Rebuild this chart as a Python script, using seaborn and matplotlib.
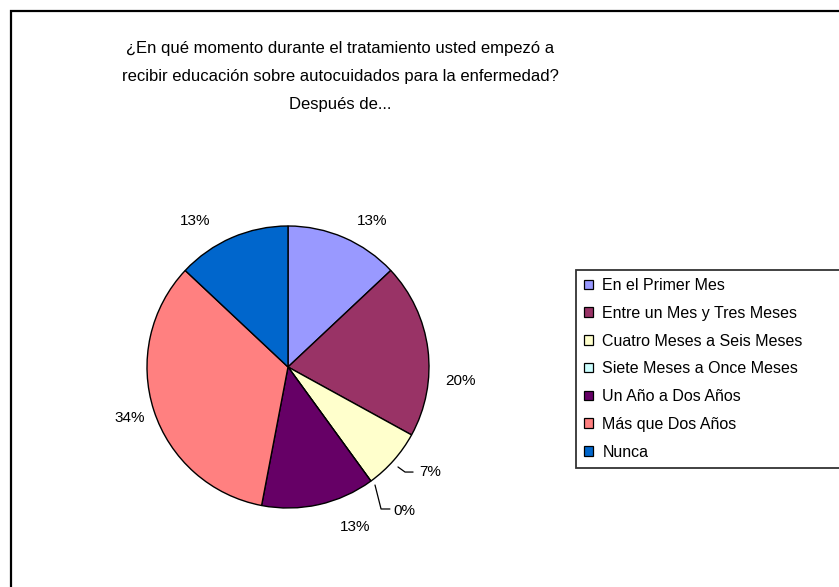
import matplotlib
matplotlib.use("Agg")
import matplotlib.pyplot as plt
import matplotlib.patches as mpatches
import seaborn as sns

# data
categories = ["En el Primer Mes", "Entre un Mes y Tres Meses", "Cuatro Meses a Seis Meses",
              "Siete Meses a Once Meses", "Un Año a Dos Años", "Más que Dos Años", "Nunca"]
percentages = [13, 20, 7, 0, 13, 34, 13]
title = ("¿En qué momento durante el tratamiento usted empezó a\n"
         "recibir educación sobre autocuidados para la enfermedad?\nDespués de...")

# style
sns.set_theme(style="white")
plt.rcParams["font.family"] = ["Liberation Sans", "DejaVu Sans"]
plt.rcParams["text.color"] = "black"
colors = sns.color_palette(["#9999FF", "#993366", "#FFFFCC", "#CCFFFF",
                            "#660066", "#FF8080", "#0066CC"])

# label placement (data units, pie radius = 1)
label_pos = [(0.596, 1.035), (1.22, -0.099), (1.007, -0.745), (0.823, -1.021),
             (0.475, -1.135), (-1.121, -0.362), (-0.66, 1.035)]

W, H = 839, 587
fig = plt.figure(figsize=(W / 100, H / 100), dpi=100)
fig.patch.set_facecolor("white")

# outer chart border (runs off the right and bottom edges)
fig.patches.append(mpatches.Rectangle((11 / W, -0.1), 1.2, 1 - 11 / H + 0.1,
                                      transform=fig.transFigure, fill=False,
                                      edgecolor="black", linewidth=1.6))

fig.text(340 / W, 1 - 41 / H, title, ha="center", va="top", fontsize=12,
         linespacing=2.1, color="black")

cx, cy, r = 288 / W, 1 - 367 / H, 141
ax = fig.add_axes([cx - r / W, cy - r / H, 2 * r / W, 2 * r / H])
wedges, texts = ax.pie(percentages, colors=colors, startangle=90, counterclock=False,
                       wedgeprops=dict(edgecolor="black", linewidth=1.0),
                       labels=[f"{p}%" for p in percentages], labeldistance=1.15,
                       textprops=dict(fontsize=11, color="black"))
for t, (x, y) in zip(texts, label_pos):
    t.set_position((x, y))
    t.set_ha("center")
    t.set_va("center")
    t.set_clip_on(False)

# leader lines for the small slices
ax.plot([0.780, 0.830, 0.887], [-0.709, -0.745, -0.745], color="black", lw=0.9, clip_on=False)
ax.plot([0.617, 0.660, 0.723], [-0.837, -1.007, -1.007], color="black", lw=0.9, clip_on=False)
ax.set_xlim(-1, 1)
ax.set_ylim(-1, 1)
ax.set_aspect("equal")
ax.axis("off")

handles = [mpatches.Patch(facecolor=c, edgecolor="black", linewidth=0.9) for c in colors]
leg = fig.legend(handles, categories, loc="upper left",
                 bbox_to_anchor=(576 / W, 0, 300 / W, 1 - 270 / H), mode="expand",
                 fontsize=11.5, frameon=True, fancybox=False, borderaxespad=0,
                 handlelength=0.55, handleheight=0.55, handletextpad=0.6,
                 labelspacing=0.8, borderpad=0.5)
leg.get_frame().set_edgecolor("black")
leg.get_frame().set_linewidth(1.3)
for t in leg.get_texts():
    t.set_color("black")

fig.savefig("out.png", dpi=100)
